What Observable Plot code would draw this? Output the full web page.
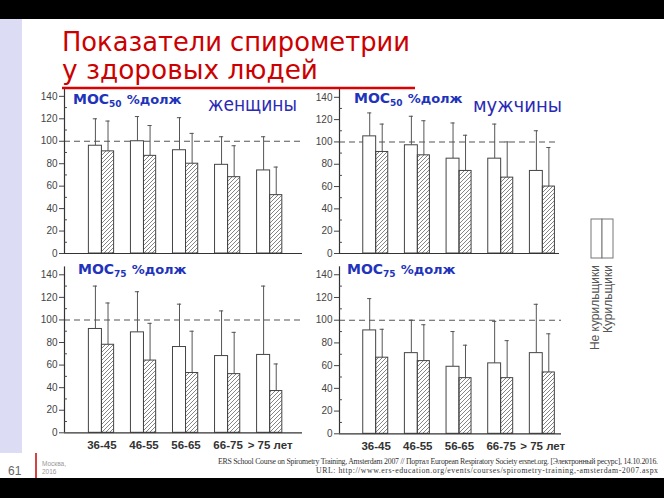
<!DOCTYPE html>
<html>
<head>
<meta charset="utf-8">
<script src="https://cdn.jsdelivr.net/npm/d3@7"></script>
<script src="https://cdn.jsdelivr.net/npm/@observablehq/plot@0.6"></script>
<style>
  html, body { margin: 0; padding: 0; background: #fff; }
  #slide { position: relative; width: 664px; height: 498px; overflow: hidden; background: #fff; }
  .panel { position: absolute; }
  #overlay { position: absolute; left: 0; top: 0; pointer-events: none; }
</style>
</head>
<body>
<div id="slide">
  <svg width="0" height="0" style="position:absolute">
    <defs>
      <pattern id="hatch" patternUnits="userSpaceOnUse" width="4" height="4">
        <path d="M-1,1 l2,-2 M0,4 l4,-4 M3,5 l2,-2" stroke="#666" stroke-width="0.8"/>
      </pattern>
    </defs>
  </svg>
</div>
<script>
// ---- data (% of predicted) ----
const ageGroups = ["36-45", "46-55", "56-65", "66-75", "> 75 лет"];
const yTicks = [0, 20, 40, 60, 80, 100, 120, 140];
const yMinorTicks = [10, 30, 50, 70, 90, 110, 130];

// Women, MOC50
const womenMoc50NonSmokers    = [96, 100, 92, 79, 74];
const womenMoc50NonSmokersErr = [120, 122, 121, 104, 104];
const womenMoc50Smokers       = [91, 87, 80, 68, 52];
const womenMoc50SmokersErr    = [118, 114, 107, 96, 77];
// Men, MOC50
const menMoc50NonSmokers      = [105, 97, 85, 85, 74];
const menMoc50NonSmokersErr   = [126, 123, 117, 116, 110];
const menMoc50Smokers         = [91, 88, 74, 68, 60];
const menMoc50SmokersErr      = [116, 119, 106, 100, 95];
// Women, MOC75
const womenMoc75NonSmokers    = [92, 89, 76, 68, 69];
const womenMoc75NonSmokersErr = [130, 125, 114, 108, 130];
const womenMoc75Smokers       = [78, 64, 53, 52, 37];
const womenMoc75SmokersErr    = [115, 97, 90, 89, 61];
// Men, MOC75
const menMoc75NonSmokers      = [91, 71, 59, 62, 71];
const menMoc75NonSmokersErr   = [119, 100, 90, 99, 114];
const menMoc75Smokers         = [67, 64, 49, 49, 54];
const menMoc75SmokersErr      = [92, 96, 78, 82, 88];

const slide = document.getElementById("slide");

function panel(cfg) {
  const rows = ageGroups.map((g, i) => ({
    i, g,
    non: cfg.non[i], nonErr: cfg.nonErr[i],
    smk: cfg.smk[i], smkErr: cfg.smkErr[i]
  }));
  const [xmin, xmax] = cfg.xDomain;
  const wBar = 0.31;
  const cap = 0.05;
  const cNon = d => d.i - wBar / 2;
  const cSmk = d => d.i + wBar / 2 - 0.01;
  const marks = [
    Plot.ruleY([100], {stroke: "#555", strokeDasharray: "6,4", strokeWidth: 1.1}),
    Plot.ruleX(rows, {x: cNon, y1: "non", y2: "nonErr", stroke: "#555", strokeWidth: 1}),
    Plot.ruleY(rows, {y: "nonErr", x1: d => cNon(d) - cap, x2: d => cNon(d) + cap, stroke: "#555", strokeWidth: 1}),
    Plot.ruleX(rows, {x: cSmk, y1: "smk", y2: "smkErr", stroke: "#555", strokeWidth: 1}),
    Plot.ruleY(rows, {y: "smkErr", x1: d => cSmk(d) - cap, x2: d => cSmk(d) + cap, stroke: "#555", strokeWidth: 1}),
    Plot.rectY(rows, {x1: d => d.i - wBar, x2: d => d.i, y1: 0, y2: "non", fill: "white", stroke: "#444", strokeWidth: 1}),
    Plot.rectY(rows, {x1: d => d.i, x2: d => d.i + wBar - 0.02, y1: 0, y2: "smk", fill: "url(#hatch)", stroke: "#444", strokeWidth: 1}),
    Plot.ruleX([xmin], {y1: 0, y2: 147, stroke: "#333", strokeWidth: 1.2}),
    Plot.ruleY([0], {stroke: "#333", strokeWidth: 1.2}),
    Plot.ruleY(yMinorTicks, {y: d => d, x1: xmin, x2: xmin + 0.07, stroke: "#444", strokeWidth: 1})
  ];
  if (cfg.xLabels) {
    marks.push(Plot.text(ageGroups, {
      x: (d, i) => i, y: 0, text: d => d, dy: 13,
      fontSize: 11.5, fontWeight: 600, fill: "#333",
      fontFamily: "Liberation Sans Narrow, Liberation Sans, Arial, sans-serif"
    }));
  }
  const chart = Plot.plot({
    width: cfg.width,
    height: cfg.height,
    marginLeft: cfg.ml, marginRight: cfg.mr, marginTop: cfg.mt, marginBottom: cfg.mb,
    x: {domain: cfg.xDomain, axis: null},
    y: {domain: [0, 147], ticks: yTicks, tickSize: 5, tickPadding: 2, label: null},
    style: {background: "transparent", overflow: "visible", fontSize: "10px",
            fontFamily: "Liberation Sans, Arial, sans-serif", color: "#444"},
    marks
  });
  chart.classList.add("panel");
  chart.style.left = cfg.left + "px";
  chart.style.top = cfg.top + "px";
  slide.appendChild(chart);
}

panel({left: 0, top: 85, width: 310, height: 172, ml: 64, mr: 8, mt: 3, mb: 4,
       xDomain: [-0.89, 4.77], xLabels: false,
       non: womenMoc50NonSmokers, nonErr: womenMoc50NonSmokersErr,
       smk: womenMoc50Smokers, smkErr: womenMoc50SmokersErr});
panel({left: 310, top: 85, width: 260, height: 172, ml: 29, mr: 11, mt: 4, mb: 4,
       xDomain: [-0.88, 4.40], xLabels: false,
       non: menMoc50NonSmokers, nonErr: menMoc50NonSmokersErr,
       smk: menMoc50Smokers, smkErr: menMoc50SmokersErr});
panel({left: 0, top: 262, width: 310, height: 191, ml: 64, mr: 8, mt: 4.4, mb: 20.7,
       xDomain: [-0.89, 4.77], xLabels: true,
       non: womenMoc75NonSmokers, nonErr: womenMoc75NonSmokersErr,
       smk: womenMoc75Smokers, smkErr: womenMoc75SmokersErr});
panel({left: 310, top: 262, width: 260, height: 191, ml: 29, mr: 9, mt: 4.3, mb: 19.7,
       xDomain: [-0.88, 4.45], xLabels: true,
       non: menMoc75NonSmokers, nonErr: menMoc75NonSmokersErr,
       smk: menMoc75Smokers, smkErr: menMoc75SmokersErr});

// ---- slide decoration and text ----
const NS = "http://www.w3.org/2000/svg";
const ov = document.createElementNS(NS, "svg");
ov.setAttribute("id", "overlay");
ov.setAttribute("width", 664);
ov.setAttribute("height", 498);
ov.innerHTML = `
  <rect x="0" y="19" width="22" height="434" fill="#dcdcf5"/>
  <rect x="0" y="0" width="664" height="19" fill="#000"/>
  <rect x="0" y="478" width="664" height="20" fill="#000"/>
  <g font-family="DejaVu Sans, sans-serif" fill="#cc0000" font-size="27">
    <text x="62" y="51" textLength="348" lengthAdjust="spacingAndGlyphs">Показатели спирометрии</text>
    <text x="62" y="79" textLength="256" lengthAdjust="spacingAndGlyphs">у здоровых людей</text>
  </g>
  <line x1="62" y1="88" x2="415" y2="88" stroke="#dd0000" stroke-width="2.5"/>
  <g font-family="DejaVu Sans, sans-serif" fill="#2233bb" font-weight="bold" font-size="14">
    <text x="73" y="104">МОС<tspan font-size="9" dy="3">50</tspan><tspan dy="-3" dx="5" font-size="13">%долж</tspan></text>
    <text x="354" y="103">МОС<tspan font-size="9" dy="3">50</tspan><tspan dy="-3" dx="5" font-size="13">%долж</tspan></text>
    <text x="78" y="274">МОС<tspan font-size="9" dy="3">75</tspan><tspan dy="-3" dx="5" font-size="13">%долж</tspan></text>
    <text x="347" y="274">МОС<tspan font-size="9" dy="3">75</tspan><tspan dy="-3" dx="5" font-size="13">%долж</tspan></text>
  </g>
  <g font-family="DejaVu Sans, sans-serif" fill="#2a2ab5" font-size="19">
    <text x="208" y="111" textLength="89" lengthAdjust="spacingAndGlyphs">женщины</text>
    <text x="473" y="112" textLength="89" lengthAdjust="spacingAndGlyphs">мужчины</text>
  </g>
  <rect x="591" y="219" width="11" height="39" fill="#fff" stroke="#777" stroke-width="1"/>
  <rect x="602" y="219" width="11" height="39" fill="#fff" stroke="#777" stroke-width="1"/>
  <g font-family="Liberation Sans, Arial, sans-serif" fill="#555" font-size="12" text-anchor="end">
    <text transform="translate(599,265) rotate(-90)">Не курильщики</text>
    <text transform="translate(612,265) rotate(-90)">Курильщики</text>
  </g>
  <g font-family="Liberation Serif, Times New Roman, serif" fill="#333" font-size="7.8" text-anchor="end">
    <text x="658" y="464" textLength="440" lengthAdjust="spacing">ERS School Course on Spirometry Training, Amsterdam 2007 // Портал European Respiratory Society ersnet.org. [Электронный ресурс], 14.10.2016.</text>
    <text x="658" y="473" textLength="342" lengthAdjust="spacing">URL: http://www.ers-education.org/events/courses/spirometry-training,-amsterdam-2007.aspx</text>
  </g>
  <text x="8" y="475" font-family="Liberation Sans, Arial, sans-serif" font-size="12" fill="#666">61</text>
  <line x1="36" y1="453" x2="36" y2="478" stroke="#cc0000" stroke-width="1.5"/>
  <g font-family="Liberation Sans, Arial, sans-serif" font-size="6.5" fill="#999">
    <text x="42" y="466">Москва,</text>
    <text x="42" y="474">2016</text>
  </g>
`;
slide.appendChild(ov);
</script>
</body>
</html>
